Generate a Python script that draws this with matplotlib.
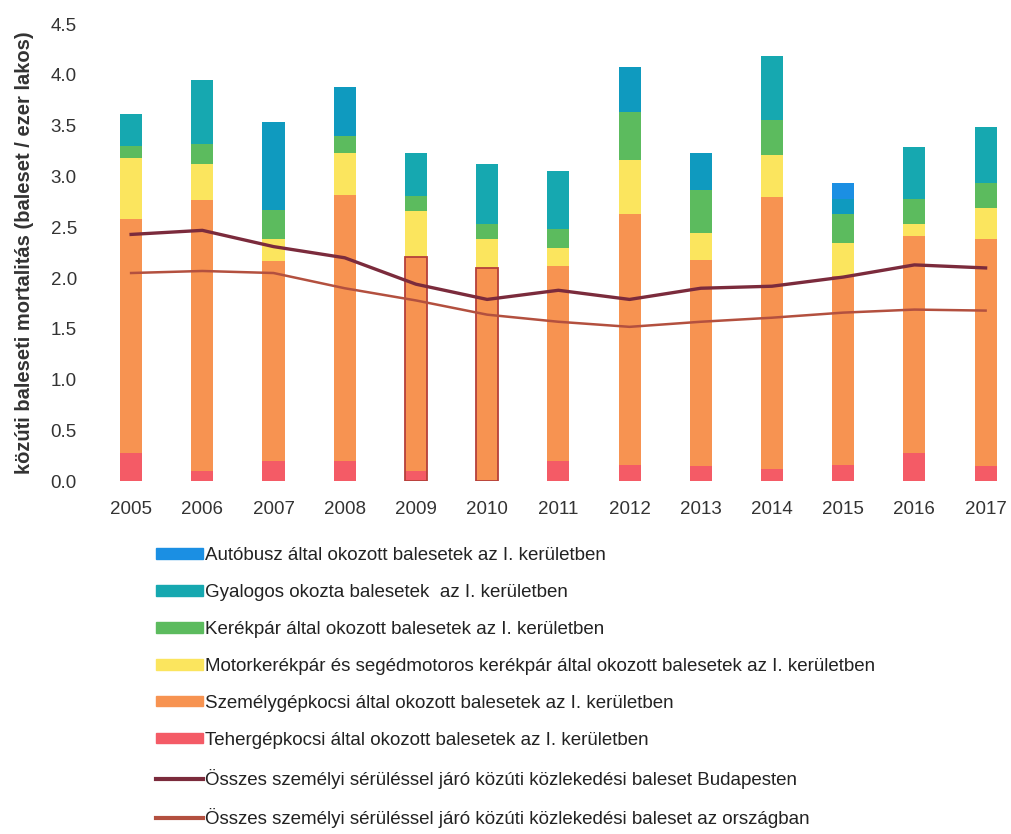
import numpy as np
import matplotlib
matplotlib.use("Agg")
import matplotlib.pyplot as plt
from matplotlib.lines import Line2D
from matplotlib.patches import Patch

plt.rcParams['font.family'] = ['Liberation Sans Narrow', 'Liberation Sans', 'DejaVu Sans']

years = ['2005', '2006', '2007', '2008', '2009', '2010', '2011',
         '2012', '2013', '2014', '2015', '2016', '2017']

# stacked segments, bottom to top
teher = [0.28, 0.10, 0.20, 0.20, 0.10, 0.00, 0.20, 0.16, 0.15, 0.12, 0.16, 0.28, 0.15]
szemely = [2.30, 2.67, 1.97, 2.62, 2.11, 2.10, 1.92, 2.47, 2.03, 2.68, 1.86, 2.13, 2.23]
motor = [0.60, 0.35, 0.21, 0.41, 0.45, 0.28, 0.18, 0.53, 0.26, 0.41, 0.33, 0.12, 0.31]
kerekpar = [0.12, 0.20, 0.29, 0.17, 0.15, 0.15, 0.18, 0.48, 0.43, 0.35, 0.28, 0.25, 0.25]
gyalogos = [0.32, 0.63, 0.87, 0.48, 0.42, 0.59, 0.57, 0.44, 0.36, 0.63, 0.15, 0.51, 0.55]
autobusz = [0, 0, 0, 0, 0, 0, 0, 0, 0, 0, 0.16, 0, 0]

budapest = [2.43, 2.47, 2.31, 2.20, 1.94, 1.79, 1.88, 1.79, 1.90, 1.92, 2.01, 2.13, 2.10]
orszag = [2.05, 2.07, 2.05, 1.90, 1.78, 1.64, 1.57, 1.52, 1.57, 1.61, 1.66, 1.69, 1.68]

labels = ['Autóbusz által okozott balesetek az I. kerületben',
          'Gyalogos okozta balesetek  az I. kerületben',
          'Kerékpár által okozott balesetek az I. kerületben',
          'Motorkerékpár és segédmotoros kerékpár által okozott balesetek az I. kerületben',
          'Személygépkocsi által okozott balesetek az I. kerületben',
          'Tehergépkocsi által okozott balesetek az I. kerületben',
          'Összes személyi sérüléssel járó közúti közlekedési baleset Budapesten',
          'Összes személyi sérüléssel járó közúti közlekedési baleset az országban']

c_auto = '#1b8fe3'
c_gyal = '#16a8b0'
c_gyal_bars = ['#16a8b0', '#16a8b0', '#0f9abf', '#0f9abf', '#16a8b0', '#16a8b0', '#16a8b0',
               '#0f9abf', '#0f9abf', '#16a8b0', '#0f9abf', '#16a8b0', '#16a8b0']
c_ker = '#5cbb5e'
c_mot = '#fbe55e'
c_szem = '#f79351'
c_teh = '#f45b66'
c_bp = '#7b2b3c'
c_or = '#b3503f'

x = np.arange(len(years))
w = 0.31

fig = plt.figure(figsize=(10.11, 8.34), dpi=100)
ax = fig.add_axes([0.098, 0.423, 0.898, 0.548])

bottom = np.zeros(len(years))
for vals, col in [(teher, c_teh), (szemely, c_szem), (motor, c_mot),
                  (kerekpar, c_ker), (gyalogos, c_gyal_bars), (autobusz, c_auto)]:
    ax.bar(x, vals, w, bottom=bottom, color=col, linewidth=0)
    bottom += np.array(vals)

# red frame drawn around 2009 and 2010 in the original
for i in [4, 5]:
    ax.bar(x[i], teher[i] + szemely[i], w, fill=False, edgecolor='#b5403a', linewidth=1.3)

ax.plot(x, budapest, color=c_bp, linewidth=2.4)
ax.plot(x, orszag, color=c_or, linewidth=1.8)

ax.set_xlim(-0.45, 12.3)
ax.set_ylim(0, 4.5)
ax.set_yticks(np.arange(0, 4.51, 0.5))
ax.set_yticklabels([f'{v:.1f}' for v in np.arange(0, 4.51, 0.5)])
ax.set_xticks(x)
ax.set_xticklabels(years)
ax.tick_params(length=0, labelsize=13.5, colors='#333333', pad=14)
ax.tick_params(axis='y', pad=16)
for s in ax.spines.values():
    s.set_visible(False)
ax.set_ylabel('közúti baleseti mortalitás (baleset / ezer lakos)', fontsize=14.5,
              fontweight='bold', color='#333333')
ax.yaxis.set_label_coords(-0.072, 0.5)

handles = [Patch(color=c_auto), Patch(color=c_gyal), Patch(color=c_ker),
           Patch(color=c_mot), Patch(color=c_szem), Patch(color=c_teh),
           Line2D([0], [0], color=c_bp, linewidth=3),
           Line2D([0], [0], color=c_or, linewidth=3)]
fig.legend(handles, labels, loc='upper left', bbox_to_anchor=(0.138, 0.364),
           frameon=False, fontsize=13.5, handlelength=2.5, handleheight=0.5,
           handletextpad=0.1, labelspacing=1.06, labelcolor='#222222')

fig.savefig('out.png', dpi=100)
